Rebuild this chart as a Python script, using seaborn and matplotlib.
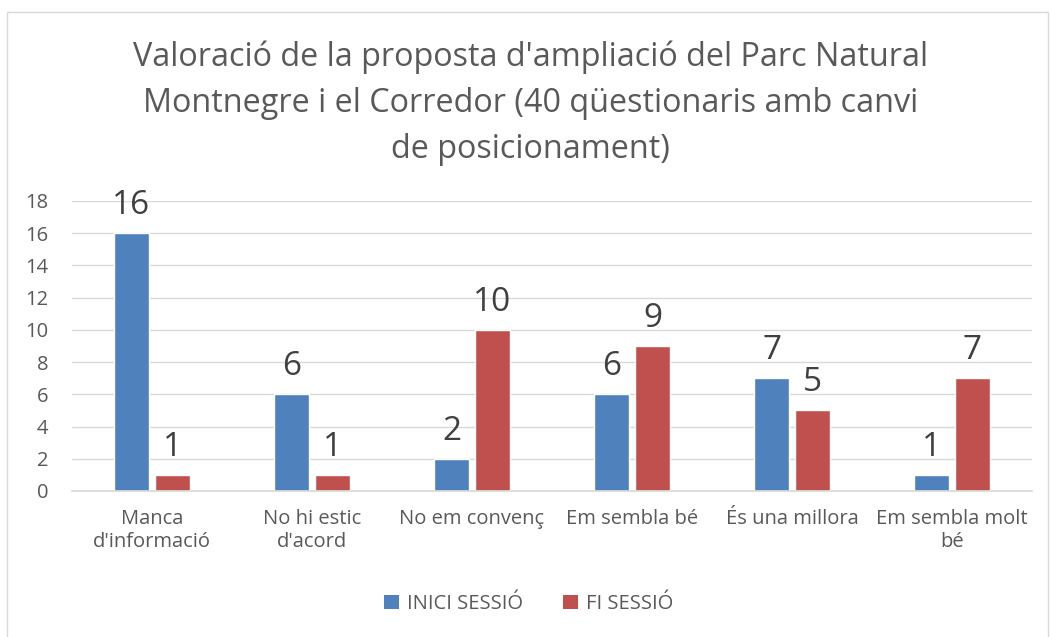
import matplotlib
matplotlib.use("Agg")
import matplotlib.pyplot as plt
import seaborn as sns
import pandas as pd
from matplotlib.patches import Rectangle, Patch

categories = ["Manca\nd'informació", "No hi estic\nd'acord", "No em convenç",
              "Em sembla bé", "És una millora", "Em sembla molt\nbé"]
inici = [16, 6, 2, 6, 7, 1]
fi = [1, 1, 10, 9, 5, 7]
series_names = ["INICI SESSIÓ", "FI SESSIÓ"]
title = "Valoració de la proposta d'ampliació del Parc Natural\nMontnegre i el Corredor (40 qüestionaris amb canvi\nde posicionament)"

df = pd.DataFrame({
    "cat": categories * 2,
    "val": inici + fi,
    "serie": [series_names[0]] * len(categories) + [series_names[1]] * len(categories),
})

sns.set_theme(style="white")
plt.rcParams['font.family'] = ['Open Sans', 'DejaVu Sans']

fig = plt.figure(figsize=(10.51, 6.37), dpi=100)
fig.patch.set_facecolor("white")
fig.add_artist(Rectangle((7 / 1051, -0.01), 1041 / 1051, 1 - 12 / 637 + 0.01,
                         transform=fig.transFigure, fill=False,
                         edgecolor="#D9D9D9", linewidth=1))

ax = fig.add_axes([72 / 1051, 1 - 491 / 637, 960 / 1051, 290 / 637])
palette = {series_names[0]: "#4F81BD", series_names[1]: "#C0504D"}
sns.barplot(data=df, x="cat", y="val", hue="serie", palette=palette, ax=ax,
            width=0.5125, gap=0.122, saturation=1, legend=False)

ax.set_ylim(0, 18)
ax.set_yticks(range(0, 19, 2))
ax.set_xlim(-0.5, len(categories) - 0.5)
ax.yaxis.grid(True, color="#D9D9D9", linewidth=1)
ax.set_axisbelow(True)
for s in ["top", "right", "left"]:
    ax.spines[s].set_visible(False)
ax.spines["bottom"].set_color("#D9D9D9")
ax.set_xlabel("")
ax.set_ylabel("")
ax.tick_params(axis="both", length=0, labelsize=14.5, colors="#595959")
ax.tick_params(axis="x", pad=13)
ax.tick_params(axis="y", pad=17)
for lbl in ax.get_xticklabels():
    lbl.set_linespacing(1.2)

for cont in ax.containers:
    ax.bar_label(cont, fmt="%d", fontsize=24, color="#404040", padding=8)

fig.text(0.505, 1 - 103 / 637, title, ha="center", va="center", fontsize=23.3,
         color="#595959", linespacing=1.52)

handles = [Patch(facecolor=palette[n], edgecolor="none") for n in series_names]
fig.legend(handles, series_names, loc="center", bbox_to_anchor=(0.503, 1 - 604 / 637),
           ncol=2, frameon=False, fontsize=14.5, labelcolor="#595959",
           handlelength=0.75, handleheight=0.75, columnspacing=2.0, handletextpad=0.4)

fig.savefig("out.png", dpi=100)
